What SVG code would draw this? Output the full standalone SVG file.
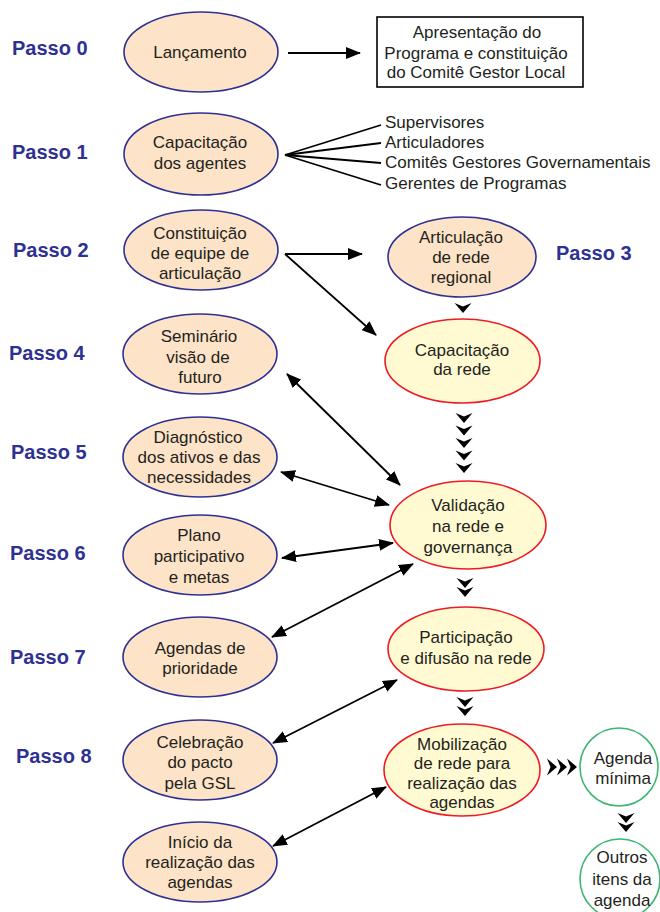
<svg xmlns="http://www.w3.org/2000/svg" width="660" height="912" viewBox="0 0 660 912">
<style>
text{font-family:"Liberation Sans",Arial,sans-serif;font-size:17px;fill:#231F20;text-anchor:middle}
.passo{font-weight:bold;font-size:20px;fill:#2E3192;text-anchor:start}
.lbl{text-anchor:start}
.blue{fill:#FDE3C7;stroke:#2E3192;stroke-width:1.6}
.red{fill:#FFFAD2;stroke:#ED1C24;stroke-width:1.6}
.green{fill:#FFFFFF;stroke:#3DB672;stroke-width:1.6}
.ln{stroke:#000;stroke-width:1.8;fill:none}
.one{marker-end:url(#ah)}
.two{marker-start:url(#ah);marker-end:url(#ah)}
.chev{fill:#000}
</style>
<defs>
<marker id="ah" markerUnits="userSpaceOnUse" viewBox="0 0 15 12" refX="14" refY="6" markerWidth="15" markerHeight="12" orient="auto-start-reverse">
<path d="M0,0 L15,6 L0,12 Z" fill="#000"/>
</marker>
<path id="cv" d="M-8.5,0 L0,3.5 L8.5,0 L0,10 Z"/>
<path id="cr" d="M0,-8.5 L3.5,0 L0,8.5 L10,0 Z"/>
</defs>

<g id="labels">
<text class="passo" x="12" y="55">Passo 0</text>
<text class="passo" x="12" y="159">Passo 1</text>
<text class="passo" x="13" y="257">Passo 2</text>
<text class="passo" x="556" y="260">Passo 3</text>
<text class="passo" x="9" y="360">Passo 4</text>
<text class="passo" x="11" y="459">Passo 5</text>
<text class="passo" x="10" y="560">Passo 6</text>
<text class="passo" x="10" y="664">Passo 7</text>
<text class="passo" x="16" y="763">Passo 8</text>
</g>

<g id="connectors">
<line class="ln one" x1="288" y1="53" x2="360" y2="53"/>
<line class="ln" x1="285" y1="155" x2="381" y2="125"/>
<line class="ln" x1="285" y1="155" x2="381" y2="143"/>
<line class="ln" x1="285" y1="155" x2="381" y2="163"/>
<line class="ln" x1="285" y1="155" x2="381" y2="185"/>
<line class="ln one" x1="285" y1="254" x2="362" y2="254"/>
<line class="ln one" x1="285" y1="254" x2="376" y2="335"/>
<line class="ln two" x1="287" y1="374" x2="400" y2="485"/>
<line class="ln two" x1="281" y1="472" x2="389" y2="505"/>
<line class="ln two" x1="282" y1="558" x2="393" y2="543"/>
<line class="ln two" x1="272" y1="637" x2="413" y2="564"/>
<line class="ln two" x1="273" y1="743" x2="397" y2="680"/>
<line class="ln two" x1="273" y1="846" x2="386" y2="787"/>
<g class="chev">
<use href="#cv" x="463" y="303"/>
<use href="#cv" x="464" y="413"/>
<use href="#cv" x="464" y="425.5"/>
<use href="#cv" x="464" y="438"/>
<use href="#cv" x="464" y="450.5"/>
<use href="#cv" x="464" y="463"/>
<use href="#cv" x="465" y="578"/>
<use href="#cv" x="465" y="587"/>
<use href="#cv" x="465" y="697"/>
<use href="#cv" x="465" y="706"/>
<use href="#cv" x="626" y="813"/>
<use href="#cv" x="626" y="822"/>
<use href="#cr" x="547" y="767"/>
<use href="#cr" x="557" y="767"/>
<use href="#cr" x="567" y="767"/>
</g>
</g>

<g id="n0">
<ellipse class="blue" cx="201" cy="52" rx="77" ry="40"/>
<text x="200" y="58">Lançamento</text>
</g>
<g id="box0">
<rect x="377" y="17" width="206" height="70" fill="#fff" stroke="#000" stroke-width="1.6"/>
<text x="477" y="38">Apresentação do</text>
<text x="476" y="59">Programa e constituição</text>
<text x="476" y="78">do Comitê Gestor Local</text>
</g>
<g id="n1">
<ellipse class="blue" cx="201" cy="154" rx="77" ry="41"/>
<text x="200" y="148">Capacitação</text>
<text x="200" y="169">dos agentes</text>
</g>
<g id="n1list">
<text class="lbl" x="385" y="128">Supervisores</text>
<text class="lbl" x="385" y="148">Articuladores</text>
<text class="lbl" x="385" y="168">Comitês Gestores Governamentais</text>
<text class="lbl" x="385" y="189">Gerentes de Programas</text>
</g>
<g id="n2">
<ellipse class="blue" cx="201" cy="250" rx="77" ry="40"/>
<text x="200" y="239">Constituição</text>
<text x="200" y="259">de equipe de</text>
<text x="200" y="279">articulação</text>
</g>
<g id="n3">
<ellipse class="blue" cx="462" cy="257" rx="74" ry="40"/>
<text x="461" y="243">Articulação</text>
<text x="461" y="263">de rede</text>
<text x="461" y="283">regional</text>
</g>
<g id="n3b">
<ellipse class="red" cx="462.5" cy="361" rx="77.5" ry="42"/>
<text x="462" y="356">Capacitação</text>
<text x="462" y="375">da rede</text>
</g>
<g id="n4">
<ellipse class="blue" cx="200" cy="354" rx="77" ry="40"/>
<text x="199" y="342">Seminário</text>
<text x="198" y="363">visão de</text>
<text x="200" y="383">futuro</text>
</g>
<g id="n5">
<ellipse class="blue" cx="200" cy="457" rx="77" ry="40"/>
<text x="198" y="443">Diagnóstico</text>
<text x="199" y="463">dos ativos e das</text>
<text x="199" y="483">necessidades</text>
</g>
<g id="nval">
<ellipse class="red" cx="468" cy="525" rx="78" ry="44"/>
<text x="468" y="511">Validação</text>
<text x="468" y="532">na rede e</text>
<text x="468" y="553">governança</text>
</g>
<g id="n6">
<ellipse class="blue" cx="200" cy="555" rx="77" ry="40"/>
<text x="199" y="541">Plano</text>
<text x="199" y="562">participativo</text>
<text x="199" y="583">e metas</text>
</g>
<g id="npart">
<ellipse class="red" cx="466" cy="649" rx="78" ry="42"/>
<text x="466" y="643">Participação</text>
<text x="466" y="664">e difusão na rede</text>
</g>
<g id="n7">
<ellipse class="blue" cx="200" cy="657" rx="77" ry="40"/>
<text x="200" y="654">Agendas de</text>
<text x="200" y="674">prioridade</text>
</g>
<g id="n8">
<ellipse class="blue" cx="200" cy="760" rx="77" ry="40"/>
<text x="200" y="748">Celebração</text>
<text x="200" y="768">do pacto</text>
<text x="200" y="789">pela GSL</text>
</g>
<g id="nmob">
<ellipse class="red" cx="462" cy="770" rx="78" ry="46"/>
<text x="462" y="750">Mobilização</text>
<text x="462" y="769">de rede para</text>
<text x="462" y="789">realização das</text>
<text x="462" y="808">agendas</text>
</g>
<g id="nagmin">
<circle class="green" cx="619" cy="767" r="39"/>
<text x="623" y="764">Agenda</text>
<text x="623" y="784">mínima</text>
</g>
<g id="noutros">
<circle class="green" cx="620" cy="879" r="40"/>
<text x="622" y="863">Outros</text>
<text x="622" y="885">itens da</text>
<text x="622" y="906">agenda</text>
</g>
<g id="n9">
<ellipse class="blue" cx="200" cy="862" rx="77" ry="40"/>
<text x="200" y="848">Início da</text>
<text x="200" y="868">realização das</text>
<text x="200" y="888">agendas</text>
</g>
</svg>
